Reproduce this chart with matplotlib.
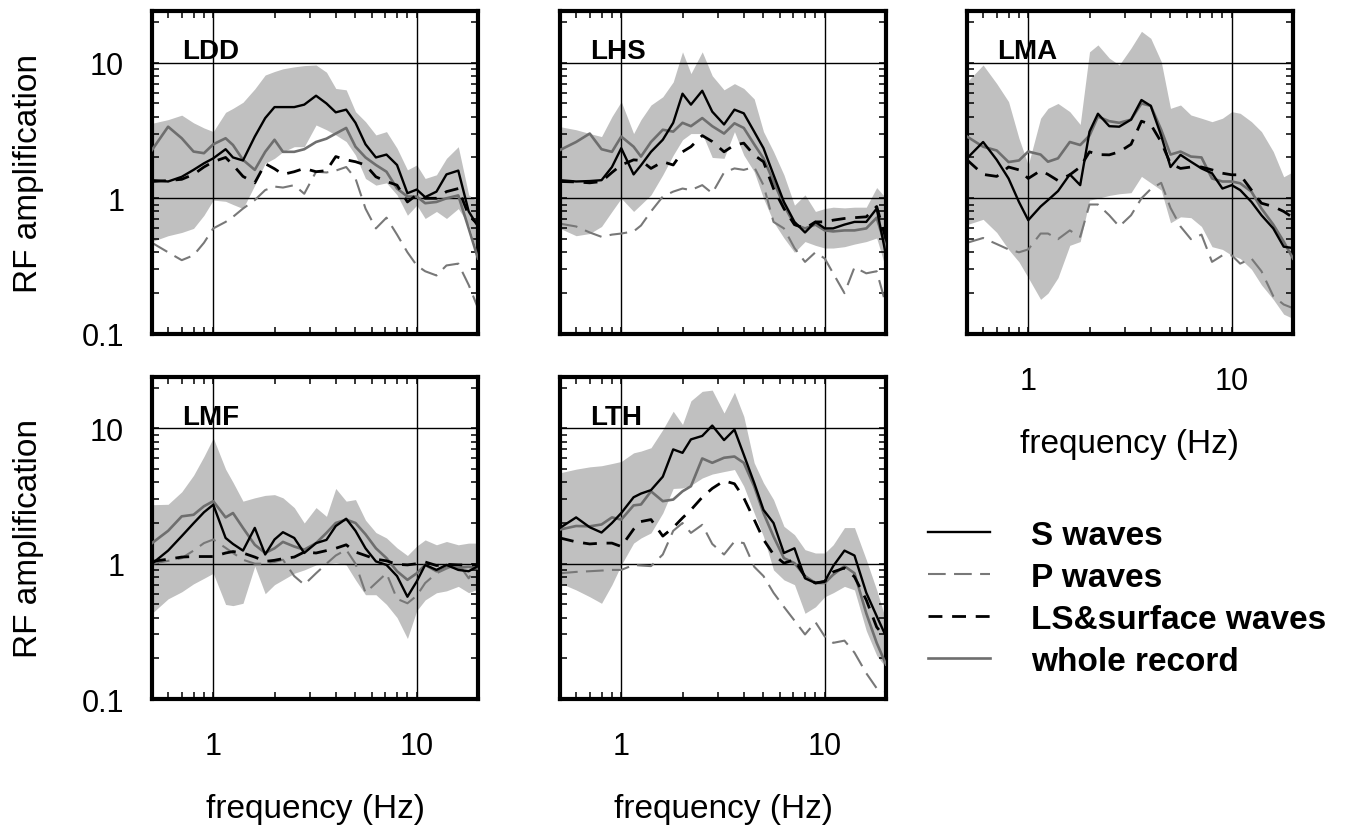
import matplotlib
matplotlib.use('Agg')
import matplotlib.pyplot as plt
from matplotlib.lines import Line2D
from matplotlib.ticker import FixedLocator, FixedFormatter, LogLocator, NullFormatter

plt.rcParams['font.family'] = ['Liberation Sans', 'DejaVu Sans']

# frequencies (Hz) shared by all spectra
freq = [0.5, 0.6, 0.7, 0.8, 0.9, 1.0, 1.15, 1.25, 1.4, 1.6, 1.8, 2.0, 2.2, 2.5, 2.8, 3.2,
        3.6, 4.0, 4.5, 5.0, 5.6, 6.3, 7.1, 8.0, 9.0, 10, 11, 12.5, 14, 16, 18, 20]

# ---- LDD ----
ldd_s  = [1.36, 1.33, 1.44, 1.62, 1.81, 1.97, 2.3, 2.0, 1.9, 2.85, 3.9, 4.7, 4.7, 4.7, 4.9, 5.7,
          5.0, 4.3, 4.5, 3.6, 2.5, 2.0, 2.1, 1.76, 1.09, 1.16, 1.02, 1.12, 1.5, 1.6, 0.8, 0.62]
ldd_p  = [0.47, 0.40, 0.35, 0.38, 0.47, 0.60, 0.67, 0.73, 0.84, 0.97, 1.15, 1.22, 1.2, 1.25, 1.08, 1.57,
          1.55, 1.6, 1.7, 1.40, 0.84, 0.60, 0.72, 0.54, 0.40, 0.32, 0.29, 0.27, 0.32, 0.33, 0.23, 0.155]
ldd_ls = [1.33, 1.35, 1.38, 1.5, 1.7, 1.86, 2.0, 1.76, 1.45, 1.3, 1.8, 1.65, 1.5, 1.57, 1.66, 1.57,
          1.6, 2.03, 1.92, 1.86, 1.76, 1.44, 1.33, 1.25, 0.94, 1.06, 1.0, 1.0, 1.12, 1.18, 0.75, 0.64]
ldd_wr = [2.27, 3.37, 2.77, 2.21, 2.15, 2.5, 2.77, 2.47, 1.92, 1.62, 2.2, 2.7, 2.2, 2.2, 2.3, 2.6,
          2.75, 3.0, 3.3, 2.4, 2.0, 1.76, 1.57, 1.18, 1.03, 1.03, 0.92, 0.94, 1.0, 1.05, 0.60, 0.36]
ldd_hi = [3.57, 3.8, 4.1, 3.6, 3.3, 3.1, 4.3, 4.6, 5.1, 6.4, 8.1, 8.6, 9.0, 9.3, 9.5, 9.6,
          8.5, 6.45, 6.3, 4.35, 3.67, 2.93, 3.1, 2.34, 1.62, 1.76, 1.40, 1.49, 1.97, 2.4, 1.06, 0.94]
ldd_lo = [0.48, 0.53, 0.56, 0.60, 0.75, 0.97, 0.95, 0.9, 0.84, 1.25, 1.81, 1.97, 2.2, 2.4, 2.4, 3.47,
          3.2, 2.93, 2.62, 2.08, 1.40, 1.25, 1.3, 1.06, 0.75, 0.89, 0.71, 0.80, 0.71, 0.84, 0.64, 0.38]

# ---- LHS ----
lhs_s  = [1.36, 1.33, 1.34, 1.36, 1.7, 2.34, 1.5, 1.75, 2.2, 2.7, 3.6, 5.9, 4.9, 6.2, 4.35, 3.5,
          4.5, 4.23, 3.1, 2.34, 1.49, 0.94, 0.67, 0.56, 0.67, 0.60, 0.60, 0.64, 0.67, 0.67, 0.84, 0.38]
lhs_p  = [0.65, 0.62, 0.56, 0.52, 0.54, 0.55, 0.57, 0.63, 0.8, 1.03, 1.12, 1.18, 1.15, 1.25, 1.09, 1.55,
          1.66, 1.62, 1.7, 1.25, 0.67, 0.60, 0.43, 0.34, 0.40, 0.36, 0.28, 0.20, 0.31, 0.28, 0.29, 0.164]
lhs_ls = [1.33, 1.32, 1.3, 1.33, 1.55, 1.76, 1.92, 1.9, 1.66, 1.86, 1.76, 2.2, 2.4, 2.9, 2.62, 2.2,
          2.47, 2.55, 2.08, 1.86, 1.18, 0.84, 0.64, 0.60, 0.67, 0.67, 0.69, 0.71, 0.72, 0.73, 0.87, 0.5]
lhs_wr = [2.27, 2.6, 3.0, 2.3, 2.2, 2.85, 2.4, 2.03, 2.6, 3.2, 3.1, 3.6, 3.4, 3.9, 3.4, 3.0,
          3.57, 3.3, 2.5, 1.97, 1.33, 0.89, 0.64, 0.60, 0.64, 0.58, 0.57, 0.58, 0.58, 0.60, 0.72, 0.43]
lhs_hi = [3.37, 3.2, 3.0, 2.85, 4.0, 5.16, 3.0, 3.8, 4.87, 5.6, 7.2, 12.0, 8.3, 12.0, 8.0, 6.3,
          7.0, 6.45, 5.4, 3.1, 2.21, 1.49, 0.89, 1.06, 0.80, 0.84, 0.86, 0.85, 0.86, 0.86, 1.2, 1.0]
lhs_lo = [0.60, 0.53, 0.55, 0.62, 0.8, 1.0, 0.8, 0.9, 1.06, 1.49, 2.08, 2.7, 3.0, 3.0, 2.0, 1.97,
          3.1, 2.08, 1.57, 1.0, 0.67, 0.51, 0.40, 0.48, 0.45, 0.43, 0.43, 0.44, 0.46, 0.48, 0.51, 0.30]

# ---- LMA ----
lma_s  = [1.97, 2.6, 1.92, 1.4, 0.94, 0.69, 0.87, 0.97, 1.13, 1.5, 1.25, 3.1, 4.2, 3.4, 3.37, 3.8,
          5.3, 4.8, 2.9, 1.7, 2.09, 1.86, 1.66, 1.53, 1.18, 1.25, 1.15, 0.94, 0.75, 0.60, 0.44, 0.43]
lma_p  = [0.47, 0.51, 0.46, 0.42, 0.40, 0.42, 0.55, 0.55, 0.50, 0.58, 0.52, 0.9, 0.9, 0.75, 0.62, 0.75,
          1.0, 1.17, 1.3, 0.85, 0.62, 0.50, 0.54, 0.34, 0.38, 0.38, 0.33, 0.36, 0.29, 0.19, 0.165, 0.155]
lma_ls = [1.92, 1.5, 1.45, 1.7, 1.62, 1.4, 1.6, 1.5, 1.35, 1.49, 1.7, 2.2, 2.1, 2.09, 2.2, 2.5,
          3.7, 3.5, 2.6, 1.8, 1.66, 1.7, 1.7, 1.62, 1.53, 1.49, 1.49, 1.15, 0.92, 0.87, 0.80, 0.72]
lma_wr = [2.85, 2.4, 2.25, 1.85, 1.9, 2.21, 2.1, 1.86, 1.97, 2.6, 2.47, 2.9, 4.0, 3.7, 3.6, 3.8,
          5.0, 4.8, 3.2, 2.1, 2.21, 2.03, 2.0, 1.40, 1.33, 1.33, 1.29, 1.12, 0.84, 0.64, 0.48, 0.36]
lma_hi = [7.2, 9.6, 7.0, 5.16, 2.77, 1.76, 3.89, 4.6, 5.0, 4.35, 3.5, 12.0, 13.5, 10.8, 9.6, 12.8,
          17.0, 15.1, 10.2, 4.6, 4.87, 4.11, 3.89, 3.67, 3.89, 4.35, 4.23, 3.67, 3.1, 2.21, 1.44, 1.57]
lma_lo = [0.64, 0.70, 0.56, 0.42, 0.34, 0.26, 0.18, 0.2, 0.26, 0.45, 0.48, 0.97, 1.0, 1.05, 1.08, 1.1,
          1.45, 1.3, 1.15, 0.66, 0.73, 0.72, 0.62, 0.44, 0.42, 0.38, 0.36, 0.30, 0.23, 0.18, 0.14, 0.13]

# ---- LMF ----
lmf_s  = [1.0, 1.25, 1.6, 1.99, 2.4, 2.73, 1.55, 1.4, 1.25, 1.84, 1.17, 1.51, 1.71, 1.55, 1.2, 1.42,
          1.5, 1.9, 2.15, 1.75, 1.3, 1.04, 0.98, 0.81, 0.57, 0.74, 0.98, 0.9, 0.98, 0.9, 0.88, 0.96]
lmf_p  = [1.0, 1.05, 1.1, 1.25, 1.42, 1.51, 1.31, 1.2, 1.07, 1.0, 1.0, 1.03, 1.07, 0.81, 0.70, 0.85,
          1.0, 1.15, 1.27, 1.0, 0.61, 0.72, 0.85, 0.55, 0.51, 0.58, 0.72, 0.85, 0.92, 1.0, 0.78, 1.0]
lmf_ls = [1.04, 1.08, 1.12, 1.13, 1.13, 1.13, 1.2, 1.23, 1.2, 1.12, 1.04, 1.06, 1.09, 1.12, 1.22, 1.2,
          1.25, 1.3, 1.38, 1.22, 1.15, 1.08, 1.05, 0.99, 0.98, 1.0, 1.03, 0.97, 0.99, 0.98, 0.98, 0.98]
lmf_wr = [1.42, 1.75, 2.24, 2.3, 2.66, 2.9, 2.2, 2.37, 1.84, 1.38, 1.2, 1.3, 1.45, 1.34, 1.27, 1.42,
          1.69, 2.0, 2.12, 2.0, 1.65, 1.3, 1.1, 0.88, 0.76, 0.85, 0.98, 0.88, 0.96, 0.93, 0.95, 0.92]
lmf_hi = [2.73, 2.75, 3.4, 4.5, 6.2, 8.5, 5.0, 4.0, 2.9, 3.07, 3.2, 3.24, 3.07, 2.6, 2.0, 2.6,
          2.24, 3.6, 2.9, 2.98, 2.1, 1.7, 1.55, 1.31, 1.15, 1.35, 1.5, 1.38, 1.46, 1.38, 1.42, 1.42]
lmf_lo = [0.43, 0.55, 0.62, 0.71, 0.78, 0.85, 0.5, 0.49, 0.51, 0.96, 0.6, 0.7, 0.76, 0.85, 0.9, 0.98,
          1.0, 1.02, 0.98, 0.76, 0.59, 0.59, 0.5, 0.40, 0.28, 0.45, 0.54, 0.61, 0.63, 0.68, 0.61, 0.65]

# ---- LTH ----
lth_s  = [1.84, 2.2, 1.86, 1.7, 2.0, 2.37, 3.1, 3.3, 3.5, 4.4, 7.0, 6.6, 8.3, 8.8, 10.5, 8.2,
          9.8, 6.4, 3.96, 2.5, 2.0, 1.2, 1.3, 0.78, 0.72, 0.74, 0.96, 1.25, 1.15, 0.61, 0.41, 0.29]
lth_p  = [0.85, 0.87, 0.88, 0.89, 0.90, 0.90, 0.98, 0.97, 0.96, 1.17, 1.75, 2.0, 1.69, 1.94, 1.4, 1.17,
          1.46, 1.42, 0.95, 0.81, 0.61, 0.48, 0.38, 0.30, 0.37, 0.29, 0.26, 0.27, 0.22, 0.155, 0.12, 0.113]
lth_ls = [1.55, 1.45, 1.4, 1.42, 1.42, 1.34, 1.8, 2.05, 2.12, 1.6, 1.85, 2.18, 2.5, 3.1, 3.6, 4.1,
          3.9, 3.07, 2.12, 1.51, 1.17, 1.01, 1.07, 0.8, 0.72, 0.74, 0.87, 0.93, 0.8, 0.54, 0.34, 0.28]
lth_wr = [1.79, 1.9, 1.89, 1.95, 2.2, 2.12, 2.7, 2.74, 3.43, 2.9, 2.98, 3.43, 3.74, 6.0, 5.57, 6.07,
          6.2, 5.57, 3.74, 2.37, 1.59, 1.10, 1.01, 0.81, 0.72, 0.72, 0.83, 0.96, 0.85, 0.43, 0.26, 0.18]
lth_hi = [4.7, 5.0, 5.2, 5.3, 5.5, 5.7, 6.6, 6.8, 7.2, 9.8, 13.4, 10.7, 16.0, 18.8, 19.2, 13.0,
          18.5, 12.3, 5.57, 3.96, 2.98, 1.89, 1.64, 1.27, 1.2, 1.2, 1.38, 1.85, 1.85, 1.07, 0.64, 0.38]
lth_lo = [0.72, 0.64, 0.57, 0.51, 0.7, 0.98, 1.42, 1.55, 1.69, 2.37, 3.6, 3.63, 3.8, 4.3, 4.6, 4.8,
          4.97, 3.74, 2.37, 1.59, 0.9, 0.76, 0.70, 0.43, 0.48, 0.57, 0.61, 0.68, 0.64, 0.32, 0.21, 0.17]

stations = {
    'LDD': (ldd_s, ldd_p, ldd_ls, ldd_wr, ldd_hi, ldd_lo),
    'LHS': (lhs_s, lhs_p, lhs_ls, lhs_wr, lhs_hi, lhs_lo),
    'LMA': (lma_s, lma_p, lma_ls, lma_wr, lma_hi, lma_lo),
    'LMF': (lmf_s, lmf_p, lmf_ls, lmf_wr, lmf_hi, lmf_lo),
    'LTH': (lth_s, lth_p, lth_ls, lth_wr, lth_hi, lth_lo),
}

# axes rectangles in figure pixels: left, top, right, bottom (figure is 1351 x 829)
W, H = 1351, 829
boxes = {
    'LDD': (152, 12, 478, 335),
    'LHS': (560, 12, 886, 335),
    'LMA': (967, 12, 1293, 335),
    'LMF': (152, 378, 478, 700),
    'LTH': (560, 378, 886, 700),
}
show_xlab = {'LDD': False, 'LHS': False, 'LMA': True, 'LMF': True, 'LTH': True}
show_ylab = {'LDD': True, 'LHS': False, 'LMA': False, 'LMF': True, 'LTH': False}

BAND  = '#c0c0c0'
GREY  = '#6e6e6e'
PGREY = '#787878'

fig = plt.figure(figsize=(W / 100, H / 100), dpi=100)

for name, (s, p, ls, wr, hi, lo) in stations.items():
    l, t, r, b = boxes[name]
    ax = fig.add_axes([l / W, 1 - b / H, (r - l) / W, (b - t) / H])
    ax.set_xscale('log')
    ax.set_yscale('log')
    ax.set_xlim(0.5, 20)
    ax.set_ylim(0.1, 24)

    ax.fill_between(freq, lo, hi, color=BAND, lw=0, zorder=1)
    for v in (1, 10):
        ax.axhline(v, color='black', lw=1.0, zorder=1.5)
        ax.axvline(v, color='black', lw=1.0, zorder=1.5)

    ax.plot(freq, p, color=PGREY, lw=1.5, dashes=(8.5, 4), zorder=2)
    ax.plot(freq, wr, color=GREY, lw=1.9, zorder=3)
    ax.plot(freq, ls, color='black', lw=2.0, dashes=(5, 3.5), zorder=4)
    ax.plot(freq, s, color='black', lw=1.7, zorder=5)

    ax.xaxis.set_major_locator(FixedLocator([1, 10]))
    ax.xaxis.set_major_formatter(FixedFormatter(['1', '10']))
    ax.xaxis.set_minor_locator(LogLocator(base=10, subs=range(2, 10)))
    ax.xaxis.set_minor_formatter(NullFormatter())
    ax.yaxis.set_major_locator(FixedLocator([0.1, 1, 10]))
    ax.yaxis.set_major_formatter(FixedFormatter(['0.1', '1', '10']))
    ax.yaxis.set_minor_locator(LogLocator(base=10, subs=range(2, 10)))
    ax.yaxis.set_minor_formatter(NullFormatter())

    ax.tick_params(which='both', direction='in', top=True, right=True,
                   length=5, width=1.1, labelsize=22)
    ax.tick_params(axis='x', pad=23, labelbottom=show_xlab[name])
    ax.tick_params(axis='y', pad=20, labelleft=show_ylab[name])
    for sp in ax.spines.values():
        sp.set_linewidth(3)

    if show_xlab[name]:
        ax.set_xlabel('frequency (Hz)', fontsize=24, labelpad=23)
    if show_ylab[name]:
        ax.set_ylabel('RF amplification', fontsize=24)
        ax.yaxis.set_label_coords(-0.33, 0.5)

    ax.text(0.092, 0.855, name, transform=ax.transAxes, fontsize=20,
            fontweight='bold', va='baseline', ha='left', zorder=6)

handles = [
    Line2D([], [], color='black', lw=1.7),
    Line2D([], [], color=PGREY, lw=1.5, dashes=(8.5, 4)),
    Line2D([], [], color='black', lw=2.0, dashes=(5, 3.5)),
    Line2D([], [], color=GREY, lw=1.9),
]
labels = ['S waves', 'P waves', 'LS&surface waves', 'whole record']
fig.legend(handles, labels, loc='upper left', bbox_to_anchor=(928 / W, 1 - 521 / H),
           frameon=False, prop={'weight': 'bold', 'size': 24},
           handlelength=1.86, handletextpad=1.23, labelspacing=0.33,
           borderpad=0, borderaxespad=0)

fig.savefig('out.png', dpi=100)
